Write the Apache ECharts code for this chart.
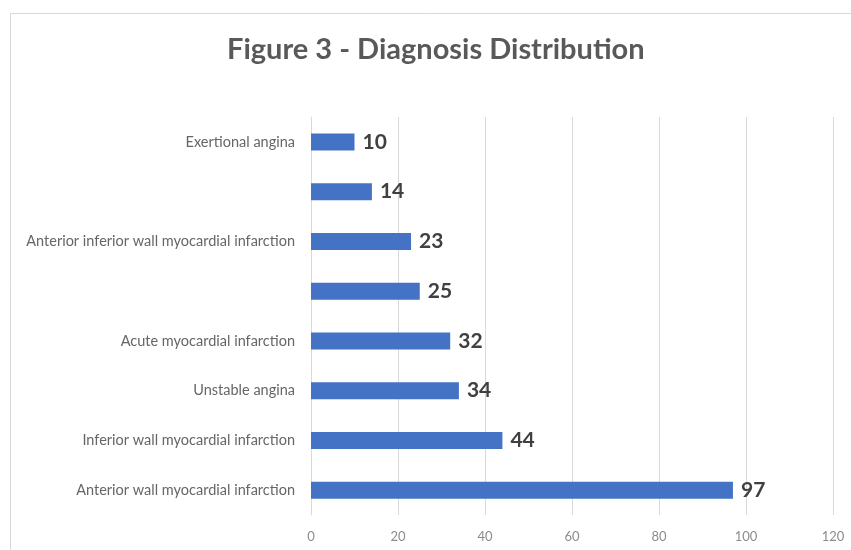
<!DOCTYPE html>
<html>
<head>
<meta charset="utf-8">
<script src="https://cdn.jsdelivr.net/npm/echarts@6/dist/echarts.min.js"></script>
<style>
  html, body { margin: 0; padding: 0; background: #ffffff; }
  #chart { width: 851px; height: 550px; }
</style>
</head>
<body>
<div id="chart"></div>
<script>
// Diagnoses, listed bottom to top as drawn on the category axis
const diagnoses = [
  'Anterior wall myocardial infarction',
  'Inferior wall myocardial infarction',
  'Unstable angina',
  'Acute myocardial infarction',
  '',
  'Anterior inferior wall myocardial infarction',
  '',
  'Exertional angina'
];
// Number of patients per diagnosis
const patientCounts = [97, 44, 34, 32, 25, 23, 14, 10];
// Value axis ticks
const tickValues = [0, 20, 40, 60, 80, 100, 120];

const chart = echarts.init(document.getElementById('chart'));
chart.setOption({
  backgroundColor: '#ffffff',
  animation: false,
  title: {
    text: 'Figure 3 - Diagnosis Distribution',
    left: 222,
    top: 30,
    textStyle: {
      fontFamily: 'Lato',
      fontSize: 29,
      fontWeight: 'bold',
      color: '#595959'
    }
  },
  graphic: [{
    type: 'rect',
    shape: { x: 10.5, y: 13.5, width: 900, height: 600 },
    style: { fill: 'none', stroke: '#d9d9d9', lineWidth: 1 },
    silent: true,
    z: -1
  }],
  grid: {
    left: 311,
    right: 18,
    top: 117,
    bottom: 35,
    containLabel: false
  },
  xAxis: {
    type: 'value',
    min: tickValues[0],
    max: tickValues[tickValues.length - 1],
    interval: tickValues[1] - tickValues[0],
    axisLine: { show: false },
    axisTick: { show: false },
    splitLine: { show: true, lineStyle: { color: '#d9d9d9', width: 1 } },
    axisLabel: {
      color: '#8c8c8c',
      fontFamily: 'Lato',
      fontSize: 13,
      margin: 15
    }
  },
  yAxis: {
    type: 'category',
    data: diagnoses,
    axisLine: { show: true, lineStyle: { color: '#d9d9d9' } },
    axisTick: { show: false },
    axisLabel: {
      interval: 0,
      color: '#666666',
      fontFamily: 'Lato',
      fontSize: 14.5,
      margin: 16
    }
  },
  series: [{
    type: 'bar',
    data: patientCounts,
    barWidth: 17,
    itemStyle: { color: '#4472c4' },
    label: {
      show: true,
      position: 'right',
      distance: 8,
      color: '#404040',
      fontFamily: 'Lato',
      fontWeight: 'bold',
      fontSize: 21
    }
  }]
});
</script>
</body>
</html>
